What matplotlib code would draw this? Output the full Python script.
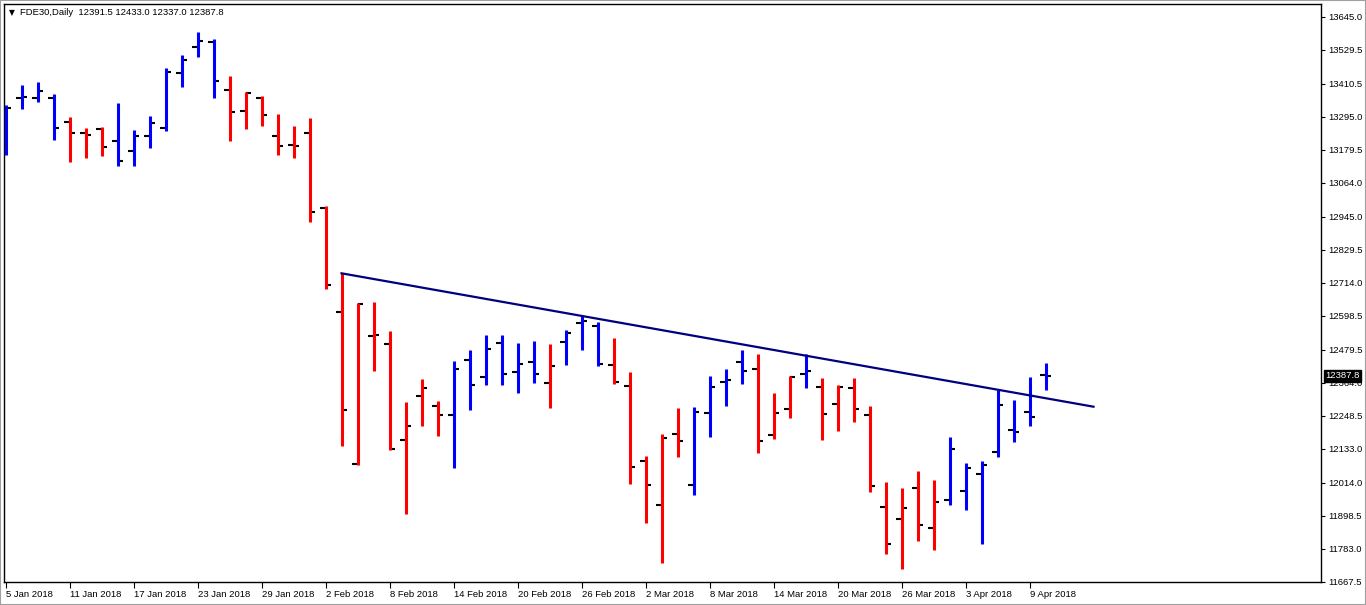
import matplotlib
matplotlib.use('Agg')
import matplotlib.pyplot as plt
import matplotlib.transforms as mtransforms
import pandas as pd

plt.rcParams['font.family'] = ['Liberation Sans', 'DejaVu Sans']

# Barras diarias FDE30 (5 Ene 2018 - 10 Abr 2018), sin festivos de Eurex
holidays = ['2018-03-30', '2018-04-02']
dates = pd.bdate_range('2018-01-05', '2018-04-10')
dates = dates[~dates.isin(pd.to_datetime(holidays))]

opens = [13177.8, 13360.8, 13360.8, 13360.8, 13276.8, 13237.3, 13252.3, 13210.3, 13175.3, 13227.8,
         13255.8, 13448.3, 13539.3, 13556.8, 13388.8, 13315.3, 13360.8, 13227.8, 13196.3, 13238.3,
         12975.8, 12611.8, 12079.8, 12527.8, 12499.8, 12163.8, 12317.8, 12282.8, 12251.3, 12443.8,
         12384.3, 12503.3, 12401.8, 12436.8, 12363.3, 12506.8, 12573.3, 12562.8, 12426.3, 12351.8,
         12090.3, 11936.3, 12184.8, 12006.3, 12258.3, 12366.8, 12436.8, 12412.3, 12181.3, 12272.3,
         12394.8, 12349.3, 12289.8, 12345.8, 12251.3, 11929.3, 11887.3, 11995.8, 11855.8, 11953.8,
         11985.3, 12044.8, 12121.8, 12198.8, 12261.8, 12391.5]
highs = [13335.3, 13405.3, 13415.8, 13373.8, 13293.3, 13254.8, 13258.3, 13342.3, 13247.8, 13296.8,
         13464.8, 13510.3, 13590.8, 13566.3, 13436.8, 13380.8, 13366.8, 13303.8, 13261.8, 13289.8,
         12981.8, 12746.2, 12641.2, 12645.8, 12544.3, 12295.8, 12376.3, 12299.3, 12439.3, 12477.8,
         12530.3, 12530.3, 12502.3, 12509.3, 12498.8, 12547.8, 12596.8, 12575.8, 12519.8, 12400.8,
         12106.8, 12183.8, 12274.8, 12278.3, 12386.8, 12411.3, 12477.8, 12463.8, 12327.3, 12386.8,
         12463.8, 12379.8, 12355.3, 12379.8, 12281.8, 12015.8, 11994.8, 12054.3, 12022.8, 12173.3,
         12082.3, 12089.3, 12337.8, 12302.8, 12383.3, 12433.0]
lows = [13161.3, 13321.3, 13346.8, 13213.8, 13136.8, 13150.8, 13157.8, 13122.8, 13122.8, 13185.8,
        13245.3, 13399.3, 13504.3, 13360.8, 13210.3, 13252.3, 13262.8, 13161.3, 13150.8, 12926.8,
        12690.2, 12142.8, 12076.3, 12405.3, 12128.8, 11904.8, 12212.8, 12177.8, 12065.8, 12268.8,
        12356.3, 12356.3, 12328.3, 12363.3, 12275.8, 12426.3, 12478.8, 12422.8, 12359.8, 12009.8,
        11873.3, 11733.3, 12104.3, 11971.3, 12174.3, 12282.8, 12359.8, 12118.3, 12167.3, 12240.8,
        12345.8, 12163.8, 12195.3, 12226.8, 11981.8, 11764.8, 11712.3, 11810.3, 11778.8, 11936.3,
        11918.8, 11799.8, 12104.3, 12156.8, 12212.8, 12337.0]
closes = [13324.8, 13363.3, 13385.3, 13255.8, 13237.3, 13230.3, 13189.3, 13140.3, 13227.8, 13273.3,
          13451.8, 13493.8, 13560.3, 13420.3, 13311.8, 13378.3, 13301.3, 13192.8, 13192.8, 12961.8,
          12706.3, 12268.8, 12639.8, 12531.3, 12132.3, 12212.8, 12345.8, 12251.3, 12412.3, 12356.3,
          12482.3, 12394.8, 12429.8, 12394.8, 12422.8, 12538.3, 12580.3, 12429.8, 12366.8, 12069.3,
          12006.3, 12170.8, 12160.3, 12261.8, 12349.3, 12373.8, 12405.3, 12160.3, 12258.3, 12384.3,
          12405.3, 12254.8, 12349.3, 12272.3, 12002.8, 11799.8, 11925.8, 11866.3, 11946.8, 12132.3,
          12065.8, 12076.3, 12286.3, 12191.8, 12244.3, 12387.8]
# estado de tendencia del indicador: 1 = azul, -1 = rojo
trend = ([1] * 4 + [-1] * 3 + [1] * 7 + [-1] * 14 + [1] * 6 + [-1] + [1] * 3 + [-1] * 5
         + [1] * 4 + [-1] * 3 + [1] + [-1] * 8 + [1] * 7)

# Linea de tendencia (indice de barra, precio)
trend_x = [21, 68]
trend_y = [12746.2, 12279.3]

y_ticks = [13645.0, 13529.5, 13410.5, 13295.0, 13179.5, 13064.0, 12945.0, 12829.5, 12714.0,
           12598.5, 12479.5, 12364.0, 12248.5, 12133.0, 12014.0, 11898.5, 11783.0, 11667.5]

header = 'FDE30,Daily  12391.5 12433.0 12337.0 12387.8'
last_price = closes[-1]

idx = list(range(len(dates)))
colors = ['#0000ff' if t > 0 else '#ff0000' for t in trend]

fig = plt.figure(figsize=(13.66, 6.05), dpi=100)
ax = fig.add_axes([4 / 1366, 23 / 605, 1317 / 1366, 578 / 605])

# ticks de apertura / cierre
ax.hlines(opens, [i - 0.34 for i in idx], idx, colors='black', linewidth=1.5, zorder=2)
ax.hlines(closes, idx, [i + 0.34 for i in idx], colors='black', linewidth=1.5, zorder=2)
ax.vlines(idx, lows, highs, colors=colors, linewidth=2.2, zorder=3)

ax.plot(trend_x, trend_y, color='#000080', linewidth=1.6, zorder=4)

ax.set_xlim(-0.094, -0.094 + 1317 / 16)
ax.set_ylim(11665.75, 13688.75)

# eje Y a la derecha
ax.yaxis.tick_right()
ax.set_yticks(y_ticks)
ax.set_yticklabels([f'{v:.1f}' for v in y_ticks])
ax.tick_params(axis='y', direction='out', length=3, width=0.8, pad=2, labelsize=6.8)

xt = idx[::4]
ax.set_xticks(xt)
ax.set_xticklabels([f'{dates[i].day} {dates[i].strftime("%b %Y")}' for i in xt], ha='left')
ax.tick_params(axis='x', direction='out', length=4, width=0.8, pad=2, labelsize=6.8)

for s in ax.spines.values():
    s.set_linewidth(1.0)
    s.set_color('black')

# precio actual
trans = mtransforms.blended_transform_factory(ax.transAxes, ax.transData)
ax.text(1.0035, last_price, f'{last_price:.1f}', transform=trans, ha='left', va='center',
        color='white', fontsize=6.8, clip_on=False, zorder=10,
        bbox=dict(boxstyle='square,pad=0.15', fc='black', ec='black'))

# cabecera
ax.text(0.0035, 0.985, '\u25bc', transform=ax.transAxes, ha='left', va='center',
        fontsize=5.5, family=['DejaVu Sans'])
ax.text(0.0125, 0.985, header, transform=ax.transAxes, ha='left', va='center', fontsize=6.8)

fig.patches.append(plt.Rectangle((0, 0), 1, 1, transform=fig.transFigure, fill=False,
                                 edgecolor='#a0a0a0', linewidth=1.5))

fig.savefig('out.png', dpi=100, facecolor='white')
